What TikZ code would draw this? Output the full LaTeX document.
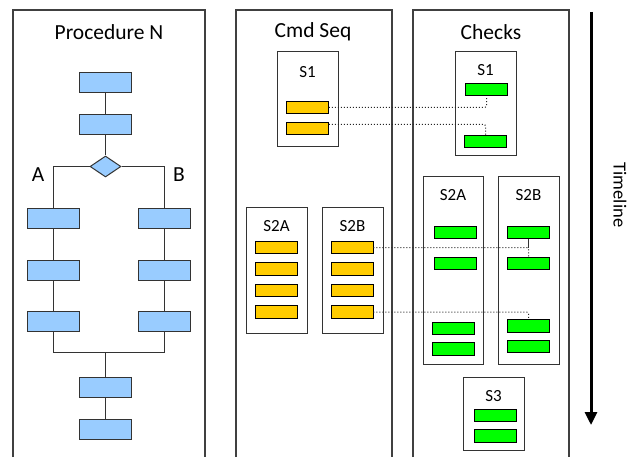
\documentclass[tikz,border=0pt]{standalone}
\usepackage{fontspec}
\setmainfont{Carlito}
\usetikzlibrary{shapes.geometric,arrows.meta}

\definecolor{bluefill}{HTML}{99CCFF}
\definecolor{yellowfill}{HTML}{FFCC00}
\definecolor{greenfill}{HTML}{00FF00}
\definecolor{edge}{HTML}{333333}
\definecolor{panel}{HTML}{404040}

\tikzset{
  flowbox/.style={draw=edge, line width=1pt, fill=bluefill, minimum width=52pt, minimum height=20pt, inner sep=0pt},
  decision/.style={draw=edge, line width=1pt, fill=bluefill, shape=diamond, aspect=1.5, minimum width=31pt, minimum height=21pt, inner sep=0pt},
  cmdbox/.style={draw=black, line width=0.9pt, fill=yellowfill, minimum width=42pt, minimum height=12.5pt, inner sep=0pt},
  chkbox/.style={draw=black, line width=0.9pt, fill=greenfill, minimum width=42pt, minimum height=12.5pt, inner sep=0pt},
  group/.style={draw=edge, line width=1pt, inner sep=0pt},
  flow/.style={draw=edge, line width=1pt},
  trace/.style={draw=black!85, line width=1pt, dotted, rounded corners=2pt},
  paneltitle/.style={font=\fontsize{21.5}{25}\selectfont, text=black},
  grouplabel/.style={font=\fontsize{17}{20}\selectfont, text=black},
  panelframe/.style={draw=panel, line width=1.2pt},
}

\begin{document}
\begin{tikzpicture}[x=1pt, y=-1pt]
\useasboundingbox (0,0) rectangle (628,457);

% ---- panel frames (open at the bottom)
\draw[panelframe] (13,457) -- (13,10) -- (205,10) -- (205,457);
\draw[panelframe] (236,457) -- (236,10) -- (392,10) -- (392,457);
\draw[panelframe] (413,457) -- (413,10) -- (569,10) -- (569,457);

\node[paneltitle] (tproc) at (109,32) {Procedure N};
\node[paneltitle] (tcmd) at (313,32) {Cmd Seq};
\node[paneltitle] (tchk) at (491,32) {Checks};

% ---- Procedure N flowchart
\node[flowbox] (p1) at (105.5,83) {};
\node[flowbox] (p2) at (105.5,124.5) {};
\node[decision] (d) at (105.5,166.5) {};
\node[flowbox] (a1) at (53,218) {};
\node[flowbox] (a2) at (53,270) {};
\node[flowbox] (a3) at (53,321.5) {};
\node[flowbox] (b1) at (164,218) {};
\node[flowbox] (b2) at (164,270) {};
\node[flowbox] (b3) at (164,321.5) {};
\coordinate (j) at (105.5,352);
\node[flowbox] (c1) at (105.5,387.5) {};
\node[flowbox] (c2) at (105.5,429.5) {};

\node[paneltitle] (la) at (38,175) {A};
\node[paneltitle] (lb) at (179,175) {B};

\draw[flow] (p1) -- (p2);
\draw[flow] (p2) -- (d);
\draw[flow] (d.west) -| (a1.north);
\draw[flow] (d.east) -| (b1.north);
\draw[flow] (a1) -- (a2);
\draw[flow] (a2) -- (a3);
\draw[flow] (b1) -- (b2);
\draw[flow] (b2) -- (b3);
\draw[flow] (a3.south) |- (j);
\draw[flow] (b3.south) |- (j);
\draw[flow] (j) -- (c1);
\draw[flow] (c1) -- (c2);

% ---- Cmd Seq
\node[group, minimum width=61pt, minimum height=95pt] (cs1) at (307.5,99.5) {};
\node[grouplabel] at (307.5,72) {S1};
\node[cmdbox] (y1) at (307.5,107.5) {};
\node[cmdbox] (y2) at (307.5,128.5) {};

\node[group, minimum width=61pt, minimum height=126pt] (cs2a) at (276.5,270) {};
\node[grouplabel] at (276.5,226) {S2A};
\node[cmdbox] (sa1) at (276.5,247.5) {};
\node[cmdbox] (sa2) at (276.5,269) {};
\node[cmdbox] (sa3) at (276.5,290.5) {};
\node[cmdbox] (sa4) at (276.5,312) {};

\node[group, minimum width=61pt, minimum height=126pt] (cs2b) at (352.5,270) {};
\node[grouplabel] at (352.5,226) {S2B};
\node[cmdbox] (sb1) at (352,247.5) {};
\node[cmdbox] (sb2) at (352,269) {};
\node[cmdbox] (sb3) at (352,290.5) {};
\node[cmdbox] (sb4) at (352,312) {};

% ---- Checks
\node[group, minimum width=61pt, minimum height=104pt] (ck1) at (485.5,104) {};
\node[grouplabel] at (485.5,70) {S1};
\node[chkbox] (g1) at (486.5,89.5) {};
\node[chkbox] (g2) at (485.5,141.5) {};

\node[group, minimum width=60pt, minimum height=188pt] (ck2a) at (453,270) {};
\node[grouplabel] at (453,195) {S2A};
\node[chkbox] (ga1) at (455.5,232.5) {};
\node[chkbox] (ga2) at (455.5,263.5) {};
\node[chkbox] (ga3) at (453,328.5) {};
\node[chkbox] (ga4) at (453,349) {};

\node[group, minimum width=61pt, minimum height=188pt] (ck2b) at (528.5,270) {};
\node[grouplabel] at (528.5,195) {S2B};
\node[chkbox] (gb1) at (528.5,232.5) {};
\node[chkbox] (gb2) at (528.5,263.5) {};
\node[chkbox] (gb3) at (528.5,326) {};
\node[chkbox] (gb4) at (528.5,346.5) {};

\node[group, minimum width=61pt, minimum height=73pt] (ck3) at (493.5,413.5) {};
\node[grouplabel] at (493.5,396) {S3};
\node[chkbox] (g31) at (495.5,415.5) {};
\node[chkbox] (g32) at (495.5,436) {};

% ---- traces from commands to checks
\draw[trace] (y1.east) -| (g1.south);
\draw[trace] ([yshift=-2.5pt]y2.north east) -| (g2.north);
\draw[trace] (sb1.east) -| (gb2.north);
\draw[flow] (gb1.south) -- (gb1.south |- sb1.east);
\draw[trace] (sb4.east) -| (gb3.north);

% ---- timeline
\coordinate (t0) at (591,12);
\coordinate (t1) at (591,425);
\draw[line width=3pt, -{Triangle[width=12pt,length=13pt]}] (t0) -- (t1);
\node[rotate=-90, font=\fontsize{18.5}{22}\selectfont] (tl) at (620,195) {Timeline};

\end{tikzpicture}
\end{document}
